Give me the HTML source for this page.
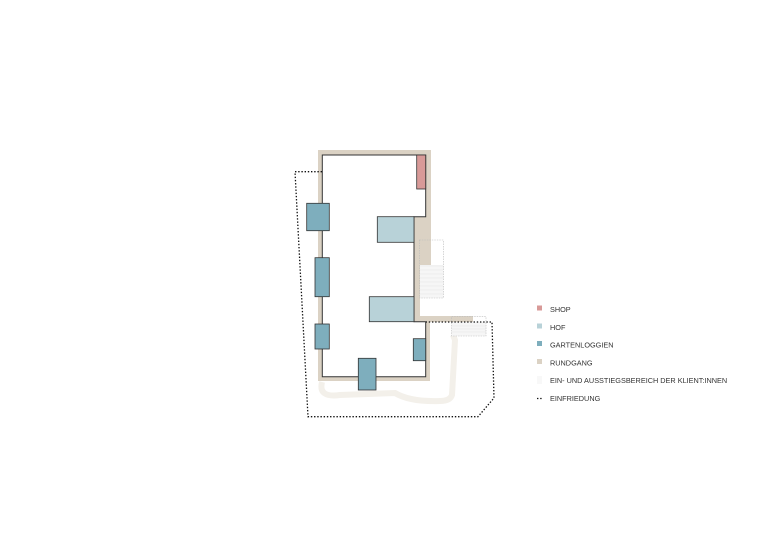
<!DOCTYPE html>
<html><head><meta charset="utf-8"><style>
body{margin:0;background:#fff;width:780px;height:552px;overflow:hidden}
text{font-family:"Liberation Sans",sans-serif;font-size:7.3px;fill:#333}
</style></head><body>
<svg width="780" height="552" viewBox="0 0 780 552" xmlns="http://www.w3.org/2000/svg">
<!-- light path -->
<path d="M322 382 Q318 398 340 395 L395 393 Q410 402 440 401 Q450 401 452 395 L455 340 L453 335" fill="none" stroke="#f3f0ea" stroke-width="6"/>
<!-- rundgang -->
<path d="M318 150 H431 V240 H420 V316 H473 V322 H430 V381 H318 Z M322 155 V377 H426 V322 H414 V217 H426 V155 Z" fill="#dbd2c4" fill-rule="evenodd"/>
<rect x="414" y="217" width="17" height="48" fill="#dbd2c4"/>
<rect x="414" y="240" width="6" height="82" fill="#dbd2c4"/>
<!-- stairs areas -->
<rect x="420" y="265" width="23.3" height="33" fill="#f6f6f6"/>
<rect x="451.7" y="322" width="34.3" height="14" fill="#f6f6f6"/>
<g fill="none" stroke="#bbb" stroke-width="0.6" stroke-dasharray="1.5,1">
<rect x="419.3" y="240" width="24" height="58"/>
<rect x="451.7" y="316.7" width="34.3" height="19.3"/>
</g>
<g stroke="#e3e3e3" stroke-width="0.5">
<path d="M420 266H443M420 270H443M420 274H443M420 278H443M420 282H443M420 286H443M420 290H443M420 294H443"/>
<path d="M452 326H486M452 329H486M452 332H486"/>
</g>
<!-- building outline -->
<path d="M322.3 155 H425.7 V216.7 H414 V321.7 H425.7 V376.7 H322.3 Z" fill="none" stroke="#333" stroke-width="1"/>
<rect x="416.7" y="155" width="9" height="34" fill="#d89a98" stroke="#333" stroke-width="0.8"/>
<g fill="#b8d2d8" stroke="#333" stroke-width="0.8">
<rect x="377.3" y="216.7" width="36.7" height="25.6"/>
<rect x="369.3" y="296.7" width="44.7" height="25"/>
</g>
<g fill="#7eaebd" stroke="#333" stroke-width="0.8">
<rect x="306.7" y="203.3" width="22.6" height="27.4"/>
<rect x="315" y="257.7" width="14.3" height="39"/>
<rect x="315" y="324" width="14.3" height="25"/>
<rect x="413.3" y="338.7" width="12.4" height="22"/>
<rect x="358.3" y="358.3" width="17.7" height="31.7"/>
</g>
<path d="M322 171.7 H295 L308 416.7 H478 L494 398 L492 322 H426" fill="none" stroke="#111" stroke-width="1.3" stroke-dasharray="1.4,1.8"/>
<!-- legend -->
<rect x="537" y="305.5" width="5" height="5" fill="#d89a98"/>
<text x="550" y="312">SHOP</text>
<rect x="537" y="323.5" width="5" height="5" fill="#b8d2d8"/>
<text x="550" y="330">HOF</text>
<rect x="537" y="341" width="5" height="5" fill="#7eaebd"/>
<text x="550" y="347.5">GARTENLOGGIEN</text>
<rect x="537" y="359" width="5" height="5" fill="#dbd2c4"/>
<text x="550" y="365.5">RUNDGANG</text>
<g stroke="#e3e3e3" stroke-width="0.6"><path d="M537 377H542M537 379H542M537 381H542M537 383H542"/></g>
<text x="550" y="383">EIN- UND AUSSTIEGSBEREICH DER KLIENT:INNEN</text>
<path d="M537 398.5H543" stroke="#111" stroke-width="1.3" stroke-dasharray="1.4,1.8"/>
<text x="550" y="401">EINFRIEDUNG</text>
</svg>
</body></html>
